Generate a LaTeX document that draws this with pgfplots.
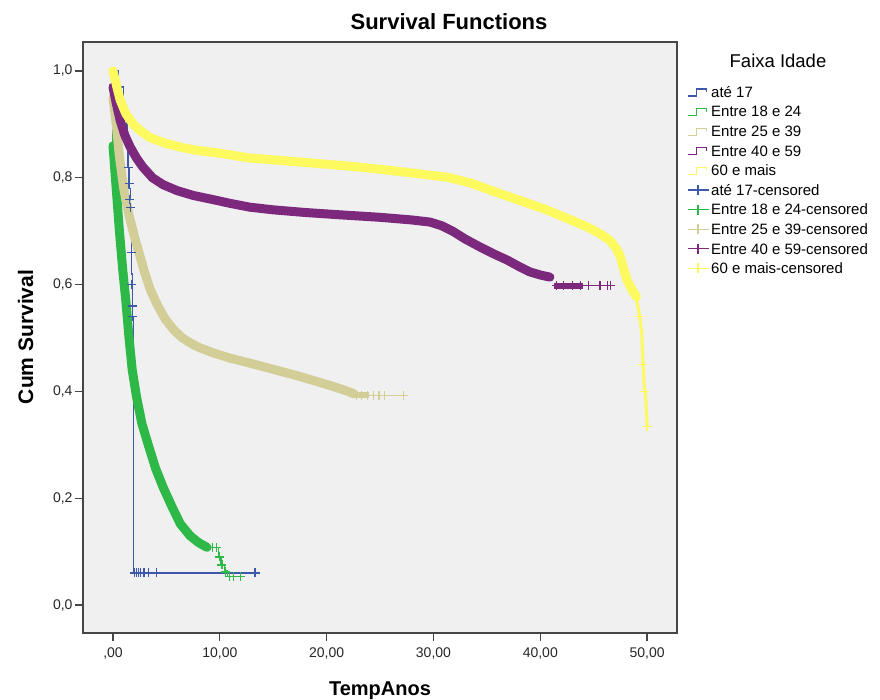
\documentclass[border=0pt]{standalone}
\usepackage{fontspec}
\setmainfont{Liberation Sans}
\usepackage{pgfplots}
\pgfplotsset{compat=1.18}
\definecolor{cBlue}{RGB}{62,88,172}
\definecolor{cGreen}{RGB}{46,184,72}
\definecolor{cTan}{RGB}{211,206,151}
\definecolor{cPurple}{RGB}{124,40,125}
\definecolor{cYellow}{RGB}{252,250,95}
\definecolor{cBg}{RGB}{240,240,240}
\definecolor{cAxis}{RGB}{70,70,70}
\pgfplotsset{
  steplegend/.style={legend image code/.code={\draw[#1,line width=1.2bp] (0bp,-4bp)--(9bp,-4bp)--(9bp,3bp)--(19bp,3bp)--(19bp,0bp);}},
  censlegend/.style={legend image code/.code={\draw[#1,line width=1.2bp] (0bp,0bp)--(21bp,0bp);\draw[#1,line width=1.2bp] (10.5bp,-5bp)--(10.5bp,5bp);}},
  band/.style={line width=9bp, line cap=round, line join=round},
}
\begin{document}
\begin{tikzpicture}
\useasboundingbox (0,0) rectangle (880bp,700bp);
\begin{axis}[
  at={(83bp,67bp)}, anchor=south west,
  scale only axis, width=594bp, height=591bp,
  xmin=-2.81, xmax=52.8, ymin=-0.0524, ymax=1.0543,
  axis background/.style={fill=cBg},
  axis line style={cAxis, line width=1.3bp},
  tick pos=left, tick align=outside,
  major tick length=8bp,
  every tick/.style={cAxis, line width=1.3bp},
  xtick={0,10,20,30,40,50},
  xticklabels={{,00},{10,00},{20,00},{30,00},{40,00},{50,00}},
  ytick={0,0.2,0.4,0.6,0.8,1.0},
  yticklabels={{0,0},{0,2},{0,4},{0,6},{0,8},{1,0}},
  ticklabel style={font=\fontsize{14bp}{16bp}\selectfont, text=black!85},
  yticklabel style={xshift=1bp},
  xticklabel style={yshift=-3bp},
  legend cell align=left,
  legend style={at={(1.0168,0.932)}, anchor=north west, draw=none, fill=none,
    inner sep=0pt, outer sep=0pt, row sep=0pt, column sep=1bp,
    font=\fontsize{15bp}{18bp}\selectfont,
    nodes={inner xsep=1bp, inner ysep=0pt, text height=15.2bp, text depth=4.4bp}},
]
\addlegendimage{steplegend=cBlue}\addlegendentry{até 17}
\addlegendimage{steplegend=cGreen}\addlegendentry{Entre 18 e 24}
\addlegendimage{steplegend=cTan}\addlegendentry{Entre 25 e 39}
\addlegendimage{steplegend=cPurple}\addlegendentry{Entre 40 e 59}
\addlegendimage{steplegend=cYellow}\addlegendentry{60 e mais}
\addlegendimage{censlegend=cBlue}\addlegendentry{até 17-censored}
\addlegendimage{censlegend=cGreen}\addlegendentry{Entre 18 e 24-censored}
\addlegendimage{censlegend=cTan}\addlegendentry{Entre 25 e 39-censored}
\addlegendimage{censlegend=cPurple}\addlegendentry{Entre 40 e 59-censored}
\addlegendimage{censlegend=cYellow}\addlegendentry{60 e mais-censored}

% Blue (ate 17) line, drawn first
\addplot[forget plot, cBlue, line width=1.2bp, const plot] coordinates {
(0,1.0)(0.5,0.97)(1.0,0.92)(1.3,0.86)(1.4,0.82)(1.5,0.78)(1.6,0.74)(1.7,0.66)(1.75,0.62)(1.8,0.58)(1.85,0.54)(1.9,0.06)(13.4,0.06)};

% Green (Entre 18 e 24)
\addplot[forget plot, cGreen, line width=1.5bp] coordinates {(0,1.0) (0,0.86)};
\addplot[forget plot, cGreen, band] coordinates {
(0,0.86)(0.3,0.78)(0.6,0.70)(0.9,0.63)(1.2,0.57)(1.5,0.50)(1.8,0.44)(2.2,0.39)(2.7,0.34)(3.3,0.30)(4.0,0.255)(4.7,0.22)(5.5,0.185)(6.3,0.152)(7.2,0.13)(8.0,0.117)(8.8,0.108)};
\addplot[forget plot, cGreen, line width=1.2bp, const plot] coordinates {
(8.8,0.107)(9.9,0.09)(10.1,0.075)(10.4,0.065)(10.7,0.053)(12.2,0.053)};
\addplot[forget plot, cGreen, only marks, mark=+, mark size=4.5bp, line width=1.2bp] coordinates {
(9.3,0.107)(9.7,0.107)(9.95,0.09)(10.2,0.075)(10.5,0.062)(10.9,0.053)(11.3,0.053)(11.9,0.053)};

% Tan (Entre 25 e 39)
\addplot[forget plot, cTan, band] coordinates {
(0,0.95)(0.3,0.90)(0.6,0.84)(1,0.78)(1.5,0.73)(2,0.69)(2.5,0.655)(3,0.62)(3.5,0.59)(4.2,0.56)(4.9,0.535)(5.7,0.515)(6.5,0.50)(7.3,0.49)(8.1,0.482)(9.4,0.472)(11,0.462)(12.8,0.453)(14.5,0.444)(16,0.436)(17.5,0.428)(19,0.419)(20.5,0.41)(22,0.40)(22.6,0.395)};
\addplot[forget plot, cTan, line width=6bp] coordinates {(22.6,0.393)(24.0,0.393)};
\addplot[forget plot, cTan, line width=1.2bp] coordinates {(24.0,0.393)(27.3,0.393)};
\addplot[forget plot, cTan, only marks, mark=+, mark size=4.5bp, line width=1.2bp] coordinates {
(22.8,0.393)(23.3,0.393)(23.8,0.393)(24.4,0.393)(24.9,0.393)(25.4,0.393)(27.2,0.393)};

% Purple (Entre 40 e 59)
\addplot[forget plot, cPurple, band] coordinates {
(0,0.97)(0.3,0.94)(0.66,0.908)(1.1,0.88)(1.6,0.858)(2.2,0.837)(2.8,0.82)(3.7,0.80)(4.7,0.787)(6,0.776)(7.5,0.767)(9.4,0.759)(11,0.752)(12.8,0.745)(15,0.740)(18,0.735)(21,0.731)(25,0.726)(28,0.721)(29.7,0.717)(30.8,0.71)(31.8,0.70)(33,0.685)(34.4,0.67)(35.7,0.657)(36.9,0.646)(38,0.634)(39,0.624)(40,0.618)(40.9,0.614)};
\addplot[forget plot, cPurple, line width=6bp] coordinates {(41.3,0.598)(44.0,0.598)};
\addplot[forget plot, cPurple, line width=1.2bp] coordinates {(44.0,0.598)(46.8,0.598)};
\addplot[forget plot, cPurple, only marks, mark=+, mark size=4.5bp, line width=1.2bp] coordinates {
(41.5,0.598)(42.2,0.598)(43.0,0.598)(43.8,0.598)(44.5,0.598)(45.6,0.598)(46.3,0.598)(46.6,0.598)};

% Yellow (60 e mais)
\addplot[forget plot, cYellow, band] coordinates {
(0,1.0)(0.3,0.975)(0.66,0.946)(1.2,0.92)(1.9,0.90)(2.7,0.886)(3.5,0.875)(5,0.864)(6.6,0.856)(8,0.851)(10,0.846)(12.8,0.837)(16,0.832)(19,0.827)(22,0.822)(25,0.816)(28,0.809)(31.3,0.801)(33.5,0.79)(36,0.772)(38.3,0.756)(40.6,0.74)(42.5,0.724)(44.4,0.708)(45.6,0.695)(46.5,0.683)(47.1,0.668)(47.5,0.652)(47.8,0.63)(48.1,0.609)(48.6,0.59)(49,0.577)};
\addplot[forget plot, cYellow, line width=3bp] coordinates {
(49,0.577)(49.3,0.54)(49.5,0.51)(49.6,0.46)(49.7,0.42)(49.9,0.38)(50,0.335)};
\addplot[forget plot, cYellow, only marks, mark=+, mark size=4.5bp, line width=1.2bp] coordinates {
(49.3,0.54)(49.6,0.45)(49.8,0.40)(50,0.335)};

% Blue censored marks on top
\addplot[forget plot, cBlue, only marks, mark=+, mark size=4.5bp, line width=1.2bp] coordinates {
(1.45,0.82)(1.5,0.79)(1.55,0.76)(1.6,0.745)(1.7,0.66)(1.75,0.60)(1.8,0.56)(1.85,0.54)(2.0,0.06)(2.2,0.06)(2.4,0.06)(2.6,0.06)(2.9,0.06)(3.3,0.06)(4.1,0.06)(13.3,0.06)};
\end{axis}
\node[font=\bfseries\fontsize{22bp}{24bp}\selectfont, anchor=base] at (449bp,670bp) {Survival Functions};
\node[font=\bfseries\fontsize{20bp}{22bp}\selectfont, anchor=base] at (380bp,5bp) {TempAnos};
\node[font=\bfseries\fontsize{21bp}{23bp}\selectfont, anchor=base, rotate=90] at (33bp,363bp) {Cum Survival};
\node[font=\fontsize{18.5bp}{20bp}\selectfont, anchor=base] at (778bp,632bp) {Faixa Idade};
\end{tikzpicture}
\end{document}
